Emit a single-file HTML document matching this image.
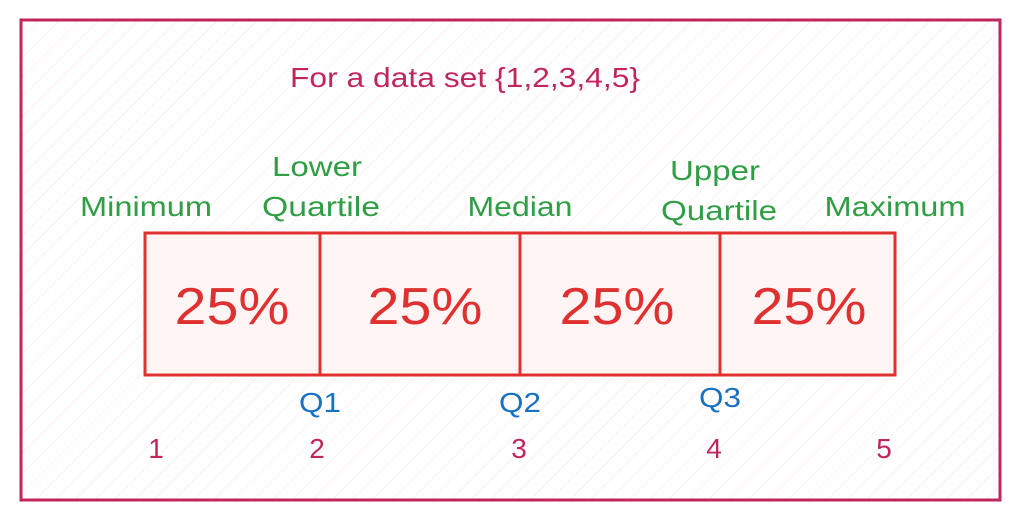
<!DOCTYPE html>
<html><head><meta charset="utf-8"><style>
html,body{margin:0;padding:0;background:#fff;}
svg{display:block;font-family:"Liberation Sans",sans-serif;}
</style></head><body>
<svg id="chart" width="1020" height="520" viewBox="0 0 1020 520">
<defs>
<pattern id="hatch" patternUnits="userSpaceOnUse" width="14" height="14" patternTransform="rotate(45)">
<line x1="0" y1="0" x2="0" y2="14" stroke="#ffe3e3" stroke-width="1.2"/>
</pattern>
</defs>
<rect x="21" y="20" width="979" height="480" fill="url(#hatch)" stroke="#c2255c" stroke-width="3"/>
<text x="465" y="87" text-anchor="middle" font-size="28" fill="#c2255c" textLength="350" lengthAdjust="spacingAndGlyphs">For a data set {1,2,3,4,5}</text>
<g id="marks"></g>
</svg>
<script>
const dataValues = [1, 2, 3, 4, 5];
const qLabels = ["Q1", "Q2", "Q3"];
const segmentPercents = ["25%", "25%", "25%", "25%"];
const topLabels = [["Minimum"], ["Lower", "Quartile"], ["Median"], ["Upper", "Quartile"], ["Maximum"]];
const boundaries = [145, 320, 520, 720, 895];
const valueX = [156, 317, 519, 714, 884];
const topX = [[146], [317, 321], [520], [715, 719], [895]];
const topW = [[132], [90, 118], [105], [90, 116], [141]];
const pctX = [232, 425, 617, 809];

const ns = "http://www.w3.org/2000/svg";
const g = document.getElementById("marks");
function mk(tag, attrs, txt) {
  const e = document.createElementNS(ns, tag);
  for (const k in attrs) e.setAttribute(k, attrs[k]);
  if (txt !== undefined) e.textContent = txt;
  g.appendChild(e);
  return e;
}
const boxTop = 233, boxBot = 375;
for (let i = 0; i < segmentPercents.length; i++) {
  const r = mk("rect", {x: boundaries[i], y: boxTop, width: boundaries[i+1]-boundaries[i], height: boxBot-boxTop, fill: "#fff5f5", stroke: "#e03131", "stroke-width": 3});
  
  
}
for (let i = 0; i < segmentPercents.length; i++) {
  const t = mk("text", {x: pctX[i], y: 324, "text-anchor": "middle", "font-size": 52, fill: "#e03131", textLength: 115, lengthAdjust: "spacingAndGlyphs"}, segmentPercents[i]);
  
  
}
const topY = [[216], [176, 216], [216], [180, 220], [216]];
for (let i = 0; i < topLabels.length; i++) {
  topLabels[i].forEach((line, j) => {
    const t = mk("text", {x: topX[i][j], y: topY[i][j], "text-anchor": "middle", "font-size": 28, fill: "#2f9e44", textLength: topW[i][j], lengthAdjust: "spacingAndGlyphs"}, line);
    
    
  });
}
const qY = [412, 412, 407];
qLabels.forEach((q, i) => {
  const t = mk("text", {x: boundaries[i+1], y: qY[i], "text-anchor": "middle", "font-size": 28, fill: "#1971c2", textLength: 42, lengthAdjust: "spacingAndGlyphs"}, q);
  
  
});
dataValues.forEach((v, i) => {
  const t = mk("text", {x: valueX[i], y: 458, "text-anchor": "middle", "font-size": 28, fill: "#c2255c"}, String(v));
  
  
});
</script>
</body></html>
